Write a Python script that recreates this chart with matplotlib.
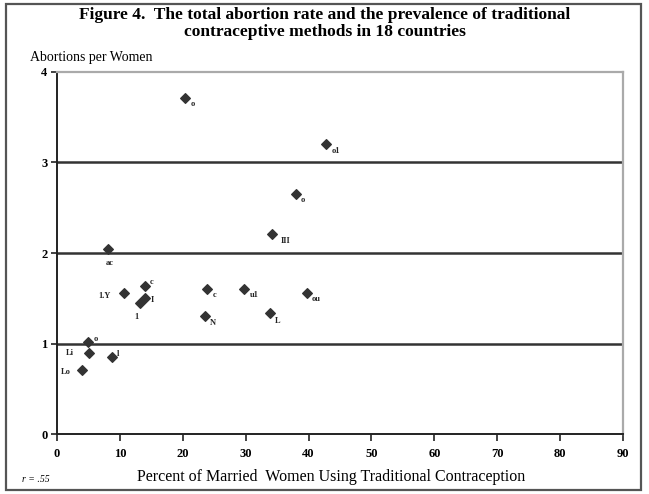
import matplotlib
matplotlib.use("Agg")
import matplotlib.pyplot as plt
from matplotlib.patches import Rectangle

# Percent of married women using traditional methods vs. total abortion rate
trad_pct = [20.4, 42.8, 38.0, 34.2, 8.1, 10.7, 14.0, 14.0, 13.2,
            23.9, 29.8, 39.7, 23.5, 33.8, 4.9, 5.1, 8.7, 3.9]
abort_rate = [3.71, 3.20, 2.65, 2.21, 2.04, 1.56, 1.64, 1.50, 1.45,
              1.60, 1.60, 1.56, 1.30, 1.34, 1.02, 0.90, 0.85, 0.71]
codes = ["o", "o1", "o", "III", "ac", "1.Y", "c", "I", "1",
         "c", "u1", "ou", "N", "L", "o", "Li", "l", "Lo"]
# label offset (pixels) for each point
offsets = [(5, -6), (5, -7), (5, -6), (9, -7), (-2, -14), (-26, -3), (5, 4), (6, -2), (-6, -14),
           (5, -6), (5, -6), (5, -6), (5, -7), (5, -8), (6, 3), (-23, 0), (5, 3), (-21, -2)]

x_ticks = list(range(0, 91, 10))
y_ticks = [0, 1, 2, 3, 4]

plt.rcParams["font.family"] = "Liberation Serif"

fig = plt.figure(figsize=(6.49, 4.94), dpi=100)
W, H = 649, 494

# outer frame
fig.patches.append(Rectangle((6 / W, 4 / H), 635 / W, 486 / H, transform=fig.transFigure,
                             fill=False, edgecolor="#555555", linewidth=1.6))

ax = fig.add_axes([57 / W, 1 - 434 / H, 566 / W, 362 / H])
ax.set_xlim(0, 90)
ax.set_ylim(0, 4)

for s in ["top", "right"]:
    ax.spines[s].set_color("#aaaaaa")
    ax.spines[s].set_linewidth(1.6)
for s in ["left", "bottom"]:
    ax.spines[s].set_color("#222222")
    ax.spines[s].set_linewidth(1.4)

for yv in y_ticks[1:-1]:
    ax.axhline(yv, color="#333333", linewidth=1.8, zorder=1)

ax.set_xticks(x_ticks)
ax.set_yticks(y_ticks)
ax.tick_params(axis="x", direction="out", length=5, width=1.2, color="#222222",
               labelsize=9, pad=5)
ax.tick_params(axis="y", direction="out", length=4, width=1.2, color="#222222",
               labelsize=9, pad=3)
for lab in ax.get_xticklabels() + ax.get_yticklabels():
    lab.set_fontweight("bold")

ax.scatter(trad_pct, abort_rate, marker="D", s=24, color="#333333", zorder=3)
for x, y, c, off in zip(trad_pct, abort_rate, codes, offsets):
    ax.annotate(c, (x, y), xytext=off, textcoords="offset pixels", fontsize=6,
                fontweight="bold", color="#222222", va="center", ha="left")

fig.text(0.5, 1 - 15 / H, "Figure 4.  The total abortion rate and the prevalence of traditional",
         ha="center", va="center", fontsize=12.5, fontweight="bold")
fig.text(0.5, 1 - 32 / H, "contraceptive methods in 18 countries",
         ha="center", va="center", fontsize=12.5, fontweight="bold")
fig.text(30 / W, 1 - 58 / H, "Abortions per Women", ha="left", va="center", fontsize=10)
fig.text(0.51, 1 - 477 / H, "Percent of Married  Women Using Traditional Contraception",
         ha="center", va="center", fontsize=11.5)
fig.text(22 / W, 1 - 479 / H, "r = .55", ha="left", va="center", fontsize=7, style="italic")

fig.savefig("out.png", dpi=100)
